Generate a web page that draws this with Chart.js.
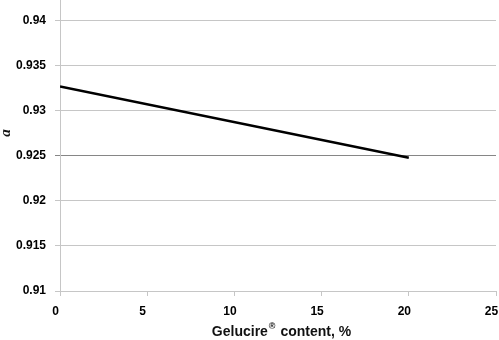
<!DOCTYPE html>
<html>
<head>
<meta charset="utf-8">
<script src="https://cdn.jsdelivr.net/npm/chart.js@4"></script>
<style>
  html, body { margin: 0; padding: 0; background: #fff; }
  canvas { display: block; }
</style>
</head>
<body>
<canvas id="myChart" width="499" height="340"></canvas>
<script>
// data
const gelucire = [0, 20];
const alpha = [0.9327, 0.9248];
const yTicks = [0.91, 0.915, 0.92, 0.925, 0.93, 0.935, 0.94];
const xTicks = [0, 5, 10, 15, 20, 25];
const xTitle = 'Gelucire';
const xTitleSup = '\u00AE';
const xTitleRest = ' content, %';
const yTitle = 'a';

const tickFont = { family: 'Liberation Sans', size: 12, weight: 'bold' };

// axis titles drawn by hand so the ® can sit raised
const axisTitles = {
  id: 'axisTitles',
  afterDraw(chart) {
    const c = chart.ctx;
    const area = chart.chartArea;
    c.save();
    c.fillStyle = '#111';
    c.textBaseline = 'middle';
    // x title
    const big = 'bold 14px "Liberation Sans"';
    const small = 'bold 9px "Liberation Sans"';
    c.font = big;
    const w1 = c.measureText(xTitle).width;
    const w3 = c.measureText(xTitleRest).width;
    c.font = small;
    const w2 = c.measureText(xTitleSup).width + 1;
    let x = (area.left + area.right) / 2 + 3 - (w1 + w2 + w3) / 2;
    const y = 332;
    c.textAlign = 'left';
    c.font = big;
    c.fillText(xTitle, x, y);
    x += w1 + 1;
    c.font = small;
    c.fillText(xTitleSup, x, y - 5);
    x += w2;
    c.font = big;
    c.fillText(xTitleRest, x, y);
    // y title
    c.translate(6, 133);
    c.rotate(-Math.PI / 2);
    c.textAlign = 'center';
    c.font = 'italic bold 15px "Liberation Serif"';
    c.fillText(yTitle, 0, 0);
    c.restore();
  }
};

const cht = document.getElementById('myChart').getContext('2d');

const data = {
  datasets: [{
    data: gelucire.map((g, i) => ({ x: g, y: alpha[i] })),
    borderColor: '#000',
    borderWidth: 2.5,
    pointRadius: 0,
    fill: false,
    tension: 0
  }]
};

const config = {
  type: 'line',
  data: data,
  options: {
    responsive: false,
    animation: false,
    layout: { padding: { top: 0, right: 3, left: 0, bottom: 0 } },
    plugins: {
      legend: { display: false },
      tooltip: { enabled: false }
    },
    scales: {
      x: {
        type: 'linear',
        min: 0,
        max: 25,
        afterBuildTicks: s => { s.ticks = xTicks.map(v => ({ value: v })); },
        afterFit: s => { s.height = 49; s.paddingLeft = 0; s.paddingRight = 0; },
        ticks: {
          font: tickFont,
          color: '#000',
          padding: 8,
          labelOffset: -4.5,
          maxRotation: 0,
          callback: v => String(v)
        },
        grid: {
          drawOnChartArea: false,
          tickLength: 5,
          color: '#c6c6c6'
        },
        border: { color: '#c6c6c6' }
      },
      y: {
        min: 0.91,
        max: 0.9423,
        afterBuildTicks: s => { s.ticks = yTicks.map(v => ({ value: v })); },
        afterFit: s => { s.width = 60; s.paddingTop = 0; s.paddingBottom = 0; },
        ticks: {
          font: tickFont,
          color: '#000',
          padding: 9,
          callback: v => String(parseFloat(v.toFixed(3)))
        },
        grid: {
          tickLength: 5,
          color: ctx => (ctx.tick && Math.abs(ctx.tick.value - 0.925) < 1e-6) ? '#868686' : '#c6c6c6'
        },
        border: { color: '#c6c6c6' }
      }
    }
  },
  plugins: [axisTitles]
};

const myChart = new Chart(cht, config);
</script>
</body>
</html>
